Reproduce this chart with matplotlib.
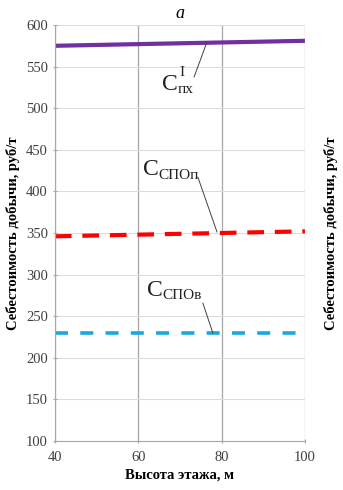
import numpy as np
import matplotlib.pyplot as plt

plt.rcParams['font.family'] = ['Liberation Serif', 'DejaVu Serif']

heights = [40, 100]
c_pkh = [575, 581]
c_spo_p = [346, 352]
c_spo_v = [230, 230]
xticks = [40, 60, 80, 100]
yticks = list(range(100, 601, 50))
ylabel = 'Себестоимость добычи, руб/т'
xlabel = 'Высота этажа, м'

fig = plt.figure(figsize=(3.43, 4.90), dpi=100)
ax = fig.add_axes([0.160, 0.100, 0.729, 0.849])

ax.plot(heights, c_pkh, color='#7030A0', lw=3.0, solid_capstyle='butt')
ax.plot(heights, c_spo_p, color='#FF0000', lw=3.0, dashes=(4, 2.6))
ax.plot(heights, c_spo_v, color='#1AA7E0', lw=2.6, dashes=(3.6, 3.4))

ax.set_xlim(40, 100)
ax.set_ylim(100, 600)
ax.set_xticks(xticks)
ax.set_yticks(yticks)
ax.grid(axis='x', color='#a6a6a6', lw=0.9)
ax.grid(axis='y', color='#dcdcdc', lw=0.8)
ax.set_axisbelow(True)
for s in ['top', 'right']:
    ax.spines[s].set_visible(False)
for s in ['left', 'bottom']:
    ax.spines[s].set_color('#a6a6a6')
ax.tick_params(colors='#a6a6a6', labelcolor='#404040', labelsize=10.5,
               length=3, direction='inout')
ax.tick_params(axis='x', pad=6)
ax.set_xlabel(xlabel, fontsize=10.5, fontweight='bold', labelpad=3)
ax.set_ylabel(ylabel, fontsize=10.5, fontweight='bold', labelpad=4)

ax2 = ax.twinx()
ax2.set_ylim(100, 600)
ax2.set_yticks([])
for s in ax2.spines.values():
    s.set_visible(False)
ax2.set_ylabel(ylabel, fontsize=10.5, fontweight='bold', labelpad=14)

ax.set_title('a', fontsize=13, style='italic', pad=5)

# labels: big C plus sub/superscript, and leader lines
c_pos = [(65.7, 529), (61.1, 426), (62.1, 281)]
subs = ['пх', 'СПОп', 'СПОв']
sub_off = [(11.5, -4), (11, -4), (11, -4)]
lead_from = [(73.4, 537.5), (74.3, 417.3), (75.5, 265.9)]
lead_to = [(76.5, 579.6), (78.9, 351.2), (77.9, 229.8)]
for p, sb, off, a, b in zip(c_pos, subs, sub_off, lead_from, lead_to):
    ax.text(p[0], p[1], 'C', fontsize=17, ha='left', va='center', color='#202020')
    ax.annotate(sb, xy=p, xytext=off, textcoords='offset points',
                fontsize=11, ha='left', va='center', color='#202020')
    ax.annotate('', xy=b, xytext=a,
                arrowprops=dict(arrowstyle='-', color='#404040', lw=0.7,
                                shrinkA=0, shrinkB=0))
ax.annotate('I', xy=c_pos[0], xytext=(12.5, 8), textcoords='offset points',
            fontsize=11, ha='left', va='center', color='#202020')

fig.savefig('out.png', dpi=100)
